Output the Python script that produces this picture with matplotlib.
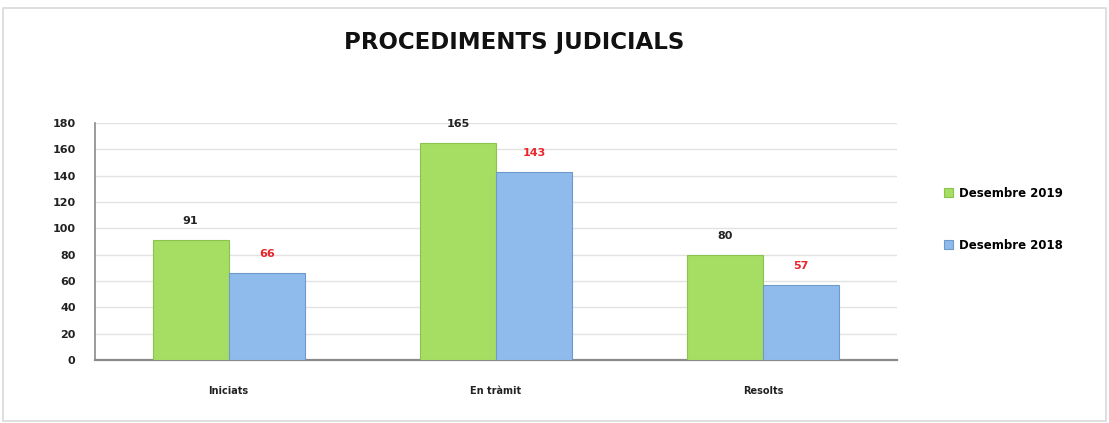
import matplotlib as mpl
import matplotlib.pyplot as plt
import numpy as np
from matplotlib.patches import Rectangle

mpl.rcParams.update({
    "font.family": ["DejaVu Sans"],
    "font.size": 8,
})

categories = ["Iniciats", "En tràmit", "Resolts"]
series_names = ["Desembre 2019", "Desembre 2018"]
vals_2019 = [91, 165, 80]
vals_2018 = [66, 143, 57]
yticks = [0, 20, 40, 60, 80, 100, 120, 140, 160, 180]

GREEN = "#a6de64"
GREEN_EDGE = "#8cc24e"
BLUE = "#8fbbec"
BLUE_EDGE = "#6e9acb"
GRID = "#e2e2e2"
SPINE = "#8a8a8a"

fig = plt.figure(figsize=(11.09, 4.23), dpi=100, facecolor="white")
# outer frame
fig.patches.append(Rectangle((0.003, 0.005), 0.994, 0.975, transform=fig.transFigure,
                             fill=False, ec="#d9d9d9", lw=1.2))

ax = fig.add_axes([0.0857, 0.149, 0.723, 0.560])
x = np.arange(len(categories))
w = 0.285

b1 = ax.bar(x - w / 2, vals_2019, w, color=GREEN, edgecolor=GREEN_EDGE, lw=0.8,
            label=series_names[0], zorder=3)
b2 = ax.bar(x + w / 2, vals_2018, w, color=BLUE, edgecolor=BLUE_EDGE, lw=0.8,
            label=series_names[1], zorder=3)

for xi, v in zip(x - w / 2, vals_2019):
    ax.annotate(str(v), (xi, v), xytext=(0, 10), textcoords="offset points",
                ha="center", va="bottom", fontsize=8, fontweight="bold", color="#222222")
for xi, v in zip(x + w / 2, vals_2018):
    ax.annotate(str(v), (xi, v), xytext=(0, 10), textcoords="offset points",
                ha="center", va="bottom", fontsize=8, fontweight="bold", color="#e8262b")

ax.set_xlim(-0.5, 2.5)
ax.set_ylim(0, 180)
ax.set_yticks(yticks)
ax.set_xticks(x)
ax.set_xticklabels(categories, fontsize=7, color="#222222", fontweight="semibold")
for lab in ax.get_yticklabels():
    lab.set_fontweight("bold")
    lab.set_color("#222222")
ax.tick_params(axis="y", length=0, pad=14, labelsize=8)
ax.tick_params(axis="x", length=0, pad=19)

ax.yaxis.grid(True, color=GRID, lw=1.0, zorder=0)
ax.set_axisbelow(True)
for s in ["top", "right"]:
    ax.spines[s].set_visible(False)
ax.spines["left"].set_color(SPINE)
ax.spines["bottom"].set_color(SPINE)
ax.spines["left"].set_linewidth(1.2)
ax.spines["bottom"].set_linewidth(1.6)

fig.text(0.464, 0.90, "PROCEDIMENTS JUDICIALS", ha="center", va="center",
         fontsize=16.5, fontweight="bold", color="#111111")

leg = fig.legend(handles=[b1, b2], loc="center left", bbox_to_anchor=(0.842, 0.482),
                 frameon=False, handlelength=0.7, handleheight=0.7, handletextpad=0.5,
                 labelspacing=3.3, prop={"weight": "bold", "size": 8.5})

fig.savefig("out.png", dpi=100, facecolor="white")
plt.close()
